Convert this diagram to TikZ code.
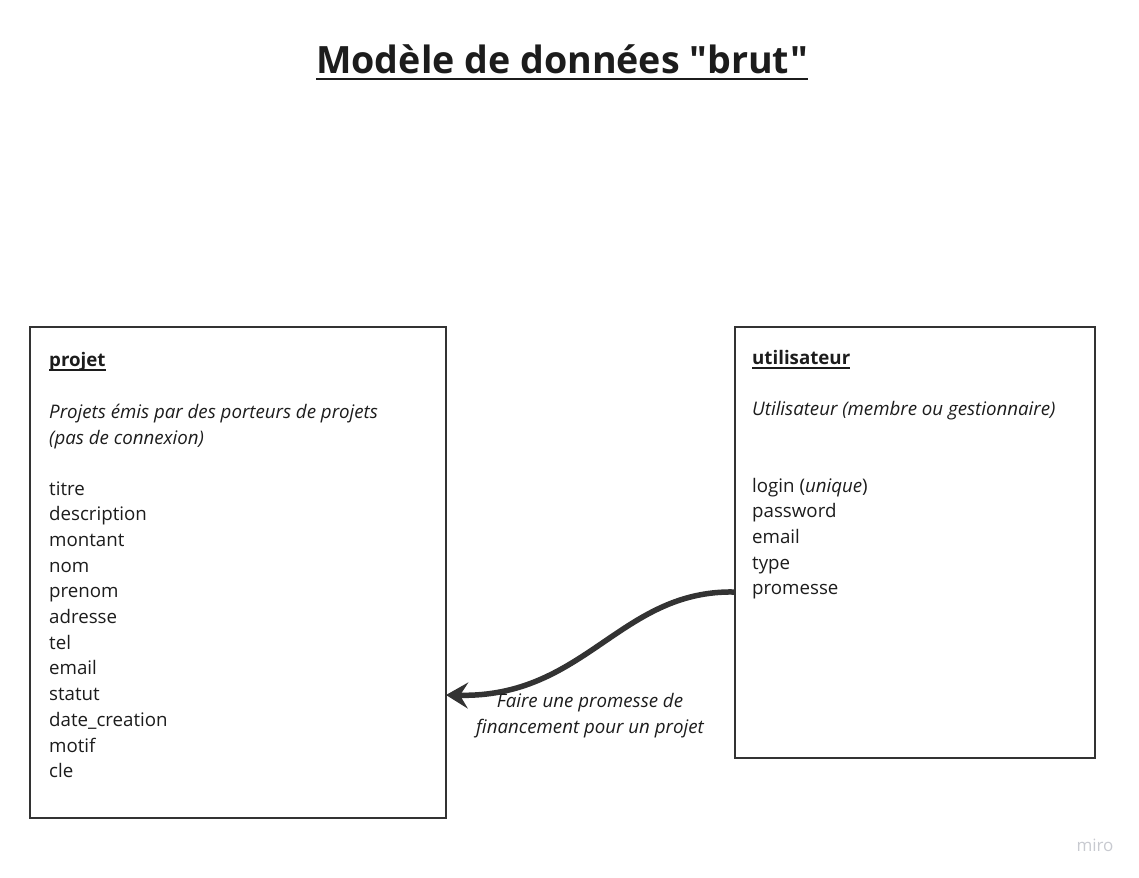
\documentclass[tikz,border=0pt]{standalone}
\usepackage{fontspec}
\setmainfont{Open Sans}[Ligatures=TeXOff]
\usetikzlibrary{arrows.meta, positioning}
\definecolor{ink}{HTML}{1C1C1C}
\definecolor{frame}{HTML}{333333}
\definecolor{logo}{HTML}{C8CAD0}

\begin{document}
\begin{tikzpicture}[x=1pt, y=-1pt,
    txt/.style={inner sep=0pt, anchor=base west, text=ink, font=\fontsize{18.7}{24}\selectfont},
    entity/.style={draw=frame, line width=1.6pt, anchor=north west, inner sep=0pt},
    ul/.style={draw=ink, line width=1.5pt},
    link/.style={draw=frame, line width=5.5pt, -{Stealth[length=22pt, width=26pt, inset=8pt]}}]
  \useasboundingbox (0,0) rectangle (1139,877);

  % titre
  \node[txt, anchor=base, font=\fontsize{37.6}{44}\selectfont\bfseries] (title) at (562,74) {Modèle de données "brut"};
  \draw[ul, line width=2.2pt] ([yshift=-5pt]title.base west) -- ([yshift=-5pt]title.base east);

  % entite projet
  \node[entity, minimum width=416pt, minimum height=491pt] (projet) at (29,326) {};
  \node[txt, font=\fontsize{18.7}{24}\selectfont\bfseries] (projet-name) at (49,366) {projet};
  \draw[ul] ([yshift=-4pt]projet-name.base west) -- ([yshift=-4pt]projet-name.base east);
  \node[txt, font=\fontsize{18.7}{24}\selectfont\itshape] (projet-desc1) at (49,418) {Projets émis par des porteurs de projets};
  \node[txt, font=\fontsize{18.7}{24}\selectfont\itshape] (projet-desc2) at (49,444) {(pas de connexion)};
  \foreach \f [count=\i from 0] in {titre, description, montant, nom, prenom, adresse, tel, email, statut, date\_creation, motif, cle}
    \node[txt] (p-\i) at (49,{495+25.7*\i}) {\f};

  % entite utilisateur
  \node[entity, minimum width=360pt, minimum height=431pt] (user) at (734,326) {};
  \node[txt, font=\fontsize{18.7}{24}\selectfont\bfseries] (user-name) at (752,364) {utilisateur};
  \draw[ul] ([yshift=-4pt]user-name.base west) -- ([yshift=-4pt]user-name.base east);
  \node[txt, font=\fontsize{18.7}{24}\selectfont\itshape] (user-desc) at (752,415) {Utilisateur (membre ou gestionnaire)};
  \node[txt] (u-0) at (752,492) {login (\textit{unique})};
  \foreach \f [count=\i] in {password, email, type, promesse}
    \node[txt] (u-\i) at (752,{492+25.7*\i}) {\f};

  % relation
  \coordinate (src) at (734,592);
  \coordinate (dst) at (446,695);
  \draw[link] (src) .. controls (620,590) and (585,698) .. (dst);
  \node[txt, anchor=base, font=\fontsize{18.7}{24}\selectfont\itshape] (rel1) at (590,707) {Faire une promesse de};
  \node[txt, anchor=base, font=\fontsize{18.7}{24}\selectfont\itshape] (rel2) at (590,733) {financement pour un projet};

  \node[txt, anchor=base, text=logo, font=\fontsize{17}{20}\selectfont] (miro) at (1095,851) {miro};
\end{tikzpicture}
\end{document}
